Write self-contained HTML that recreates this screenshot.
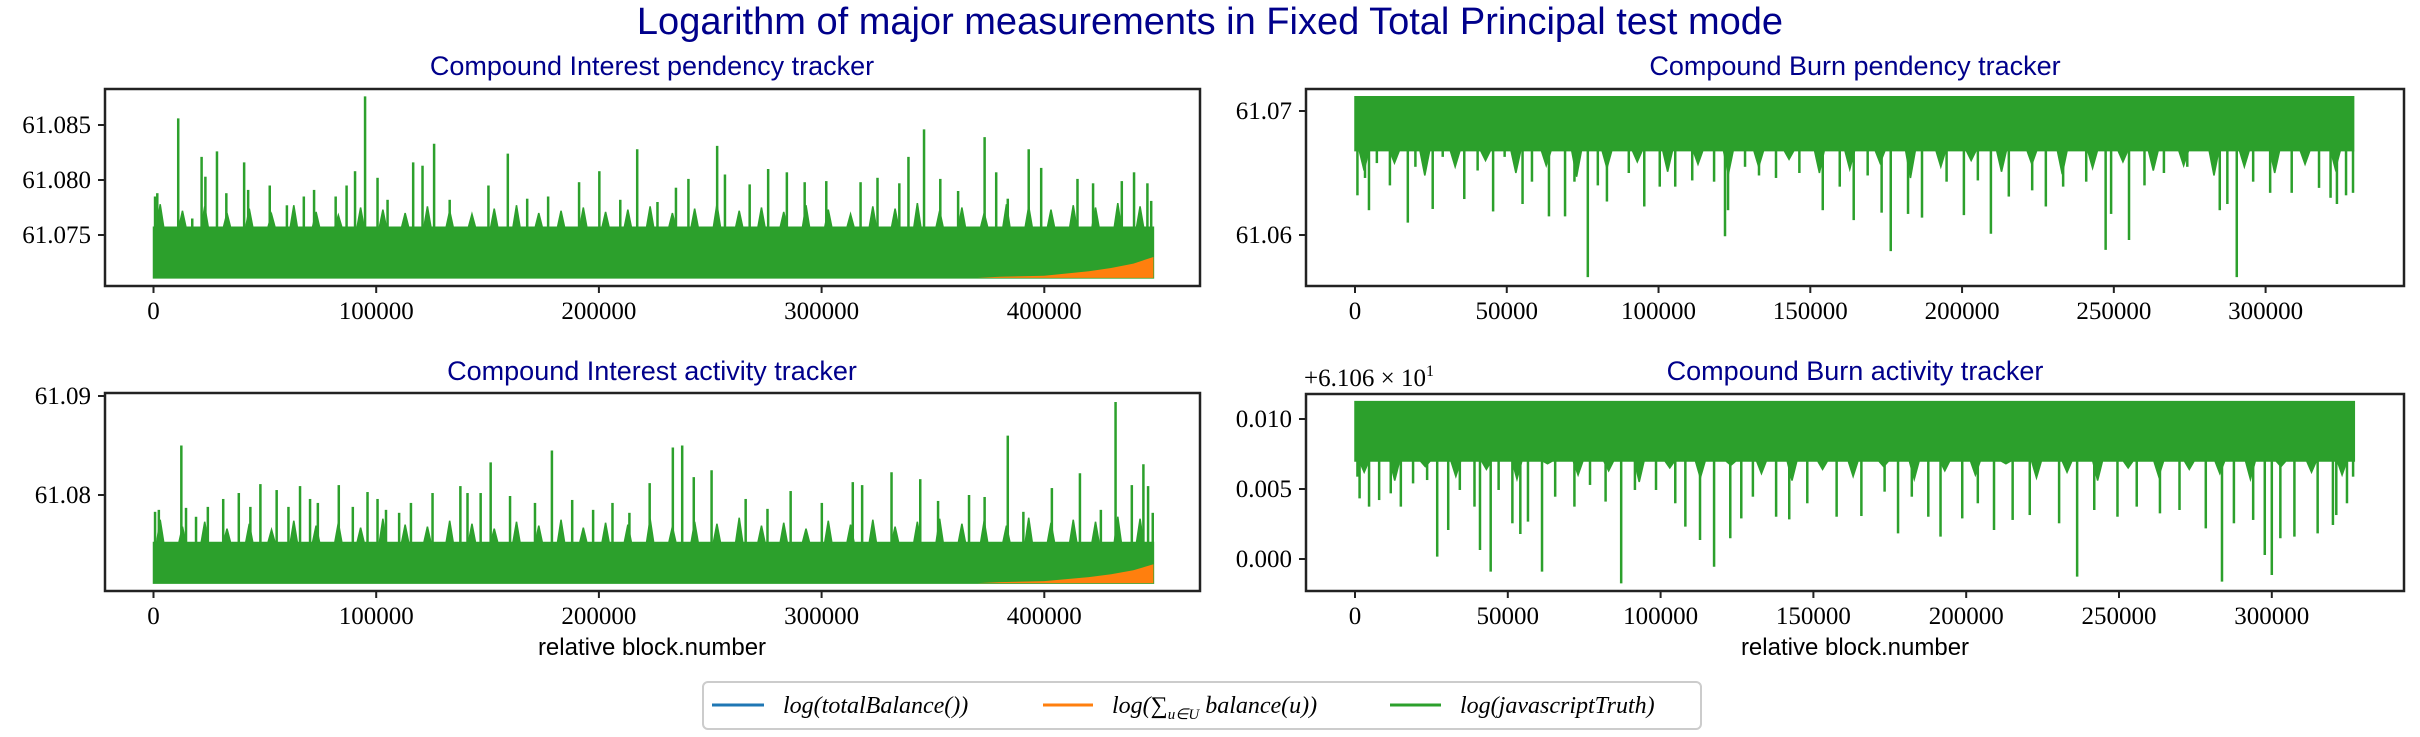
<!DOCTYPE html>
<html><head><meta charset="utf-8"><style>
html,body{margin:0;padding:0;background:#fff;}
svg{display:block;}
</style></head><body>
<svg id="fig" width="2420" height="737" viewBox="0 0 2420 737" xmlns="http://www.w3.org/2000/svg">
<rect width="2420" height="737" fill="#fff"/>
<text x="1210" y="34" text-anchor="middle" font-family="Liberation Sans, sans-serif" font-size="38" fill="#00008b">Logarithm of major measurements in Fixed Total Principal test mode</text>
<text x="652" y="75" text-anchor="middle" font-family="Liberation Sans, sans-serif" font-size="27" fill="#00008b">Compound Interest pendency tracker</text>
<text x="1855" y="75" text-anchor="middle" font-family="Liberation Sans, sans-serif" font-size="27" fill="#00008b">Compound Burn pendency tracker</text>
<text x="652" y="380" text-anchor="middle" font-family="Liberation Sans, sans-serif" font-size="27" fill="#00008b">Compound Interest activity tracker</text>
<text x="1855" y="380" text-anchor="middle" font-family="Liberation Sans, sans-serif" font-size="27" fill="#00008b">Compound Burn activity tracker</text>
<text x="652" y="655" text-anchor="middle" font-family="Liberation Sans, sans-serif" font-size="24" fill="#000">relative block.number</text>
<text x="1855" y="655" text-anchor="middle" font-family="Liberation Sans, sans-serif" font-size="24" fill="#000">relative block.number</text>
<text x="1304" y="386" font-family="Liberation Serif, serif" font-size="25" fill="#000">+6.106 × 10<tspan dy="-10" font-size="16">1</tspan></text>
<g id="legend">
<rect x="703" y="682" width="998" height="47" rx="5" fill="#fff" stroke="#ccc" stroke-width="2"/>
<g><line x1="712" y1="705" x2="764" y2="705" stroke="#1f77b4" stroke-width="3"/><text x="783" y="713" font-family="Liberation Serif, serif" font-style="italic" font-size="24">log(totalBalance())</text></g>
<g><line x1="1043" y1="705" x2="1093" y2="705" stroke="#ff7f0e" stroke-width="3"/><text x="1112" y="713" font-family="Liberation Serif, serif" font-style="italic" font-size="24">log(∑<tspan dy="6" font-size="15">u∈U</tspan><tspan dy="-6"> balance(u))</tspan></text></g>
<g><line x1="1390" y1="705" x2="1441" y2="705" stroke="#2ca02c" stroke-width="3"/><text x="1460" y="713" font-family="Liberation Serif, serif" font-style="italic" font-size="24">log(javascriptTruth)</text></g>
</g>
</svg>
<script>
// ---- data (x in thousands of blocks) ----
const p1SpikeX=[0.7,1.7,11.1,17.4,21.6,23.3,28.5,32.7,40.7,42.5,52.2,59.9,67.5,72.1,81.8,86.7,90.5,95.0,100.6,105.1,116.6,120.8,126.0,133.0,150.4,159.1,167.8,177.2,191.1,200.2,209.6,217.2,226.3,234.6,240.2,253.1,256.6,267.7,276.0,284.4,292.4,302.1,317.5,325.1,334.9,339.0,346.0,353.3,361.3,373.2,378.4,383.6,393.0,398.6,414.9,421.9,434.8,440.3,446.3,448.0];
const p1SpikeV=[61.0785,61.0788,61.0856,61.0765,61.0821,61.0803,61.0826,61.0788,61.0816,61.0791,61.0795,61.0777,61.0785,61.0791,61.0785,61.0795,61.0808,61.0876,61.0802,61.0782,61.0816,61.0813,61.0833,61.0782,61.0795,61.0824,61.0783,61.0785,61.0798,61.0808,61.0782,61.0828,61.0780,61.0793,61.0801,61.0831,61.0805,61.0796,61.0810,61.0807,61.0798,61.0799,61.0798,61.0802,61.0797,61.0821,61.0846,61.0801,61.0790,61.0839,61.0807,61.0783,61.0828,61.0811,61.0801,61.0797,61.0799,61.0807,61.0797,61.0781];
const p1Mid=[61.0778,61.0772,61.0776,61.0770,61.0774,61.0769,61.0777,61.0771,61.0768,61.0775,61.0773,61.0770,61.0776,61.0772,61.0769,61.0774,61.0777,61.0770,61.0772,61.0775,61.0771,61.0773,61.0776,61.0770,61.0774,61.0778,61.0772,61.0775,61.0771,61.0777,61.0773,61.0769,61.0776,61.0774,61.0779,61.0772,61.0775,61.0770,61.0778,61.0776,61.0773,61.0777,61.0775,61.0779,61.0776];
const p1Band=61.0757, p1Base=61.0711, p1End=449;
const p1OrangeX=[370,380,400,410,420,430,440,449];
const p1OrangeV=[61.0711,61.0712,61.0713,61.0715,61.0717,61.0720,61.0724,61.0730];

const p3SpikeX=[0.7,2.4,12.5,14.6,19.1,24.4,31.3,38.3,43.5,48.0,55.3,60.6,65.8,70.3,73.8,83.2,89.5,96.1,100.6,104.4,110.3,115.6,125.3,137.8,141.0,146.9,151.4,160.1,171.3,178.9,188.0,197.4,206.1,213.7,222.8,233.2,237.4,242.6,250.6,265.9,275.7,286.1,300.1,314.0,318.2,331.4,344.3,352.3,366.2,373.2,383.6,390.6,403.4,416.0,425.4,432.0,439.3,444.5,446.6,448.7];
const p3SpikeV=[61.0783,61.0785,61.0850,61.0787,61.0778,61.0788,61.0796,61.0802,61.0788,61.0811,61.0805,61.0788,61.0809,61.0796,61.0792,61.0810,61.0788,61.0803,61.0796,61.0785,61.0782,61.0792,61.0802,61.0809,61.0802,61.0802,61.0833,61.0799,61.0792,61.0845,61.0795,61.0785,61.0792,61.0782,61.0812,61.0848,61.0850,61.0818,61.0825,61.0796,61.0786,61.0804,61.0792,61.0813,61.0810,61.0823,61.0816,61.0794,61.0800,61.0798,61.0860,61.0783,61.0807,61.0822,61.0785,61.0894,61.0810,61.0831,61.0809,61.0782];
const p3Mid=[61.0775,61.0768,61.0773,61.0766,61.0771,61.0765,61.0774,61.0769,61.0772,61.0767,61.0776,61.0770,61.0768,61.0774,61.0771,61.0766,61.0773,61.0769,61.0775,61.0767,61.0772,61.0770,61.0776,61.0768,61.0773,61.0771,61.0777,61.0769,61.0772,61.0766,61.0774,61.0770,61.0775,61.0768,61.0773,61.0776,61.0771,61.0774,61.0769,61.0777,61.0772,61.0775,61.0773,61.0778,61.0776];
const p3Band=61.0752, p3Base=61.0711, p3End=449;
const p3OrangeX=[370,380,400,410,420,430,440,449];
const p3OrangeV=[61.0711,61.0712,61.0713,61.0715,61.0717,61.0720,61.0724,61.0730];

const p2DipX=[0.8,3.3,4.6,7.2,11.5,17.4,19.9,25.6,28.9,36.0,40.4,45.5,49.3,55.2,58.3,63.9,69.2,72.3,76.7,80.0,83.0,90.2,95.3,100.4,105.5,111.1,118.3,121.9,122.9,128.5,133.1,138.7,146.4,154.1,159.7,164.3,168.9,173.5,176.5,182.2,186.8,194.9,200.6,205.2,209.5,215.4,223.1,227.6,233.3,240.9,247.3,249.1,255.0,260.1,266.5,274.2,284.9,287.4,290.5,295.9,301.5,308.6,317.6,321.4,323.5,326.5,328.8];
const p2DipV=[61.0632,61.0646,61.0620,61.0658,61.0640,61.0610,61.0655,61.0621,61.0663,61.0629,61.0652,61.0619,61.0663,61.0625,61.0643,61.0615,61.0615,61.0643,61.0566,61.0640,61.0627,61.0650,61.0623,61.0639,61.0639,61.0644,61.0643,61.0599,61.0620,61.0655,61.0648,61.0646,61.0650,61.0620,61.0639,61.0612,61.0648,61.0618,61.0587,61.0617,61.0614,61.0643,61.0616,61.0644,61.0601,61.0631,61.0636,61.0623,61.0639,61.0643,61.0588,61.0617,61.0596,61.0640,61.0650,61.0655,61.0620,61.0625,61.0566,61.0643,61.0634,61.0634,61.0638,61.0630,61.0625,61.0632,61.0634];
const p2Mid=[61.0652,61.0658,61.0648,61.0655,61.0660,61.0650,61.0656,61.0647,61.0654,61.0659,61.0651,61.0657,61.0649,61.0655,61.0661,61.0650,61.0653,61.0658,61.0646,61.0655,61.0660,61.0651,61.0657,61.0649,61.0654,61.0659,61.0652,61.0656,61.0648,61.0655,61.0650,61.0657,61.0653];
const p2Band=61.0668, p2Top=61.07115, p2End=329;

const p4DipX=[0.8,1.5,4.6,7.9,11.7,15.0,19.0,23.6,26.9,30.5,34.3,39.1,40.9,44.4,47.0,51.5,54.1,56.6,61.2,65.5,71.8,76.9,82.0,87.1,91.6,98.5,104.8,108.1,112.9,117.5,122.8,126.4,130.2,137.8,142.1,148.0,157.6,165.7,173.3,177.7,182.2,187.6,191.6,198.7,203.8,209.1,215.2,220.8,230.4,236.3,241.9,249.5,255.8,263.4,269.8,278.4,283.7,287.6,293.9,297.7,300.0,302.8,307.4,315.0,320.0,321.1,324.6,326.6];
const p4DipV=[0.00588,0.00433,0.00374,0.00421,0.00469,0.00374,0.00540,0.00564,0.00017,0.00207,0.00493,0.00374,0.00064,-0.00090,0.00493,0.00255,0.00179,0.00267,-0.00090,0.00445,0.00374,0.00529,0.00410,-0.00174,0.00493,0.00493,0.00398,0.00231,0.00136,-0.00055,0.00148,0.00290,0.00445,0.00302,0.00283,0.00398,0.00302,0.00307,0.00481,0.00183,0.00445,0.00302,0.00160,0.00290,0.00398,0.00207,0.00279,0.00314,0.00255,-0.00126,0.00350,0.00302,0.00374,0.00326,0.00350,0.00219,-0.00162,0.00255,0.00279,0.00029,-0.00114,0.00148,0.00160,0.00183,0.00243,0.00314,0.00398,0.00588];
const p4Mid=[0.0062,0.0056,0.0066,0.0059,0.0064,0.0057,0.0068,0.0060,0.0063,0.0055,0.0065,0.0058,0.0067,0.0061,0.0056,0.0064,0.0059,0.0066,0.0057,0.0063,0.0060,0.0068,0.0058,0.0062,0.0056,0.0065,0.0059,0.0064,0.0061,0.0057,0.0066,0.0062,0.0060];
const p4Band=0.0070, p4Top=0.01124, p4End=327;

const xTicksLeft=[0,100,200,300,400];
const xTickLabelsLeft=["0","100000","200000","300000","400000"];
const xTicksRight=[0,50,100,150,200,250,300];
const xTickLabelsRight=["0","50000","100000","150000","200000","250000","300000"];
const p1YTicks=[61.075,61.080,61.085], p1YLabels=["61.075","61.080","61.085"];
const p3YTicks=[61.08,61.09], p3YLabels=["61.08","61.09"];
const p2YTicks=[61.06,61.07], p2YLabels=["61.06","61.07"];
const p4YTicks=[0,0.005,0.010], p4YLabels=["0.000","0.005","0.010"];

const NS="http://www.w3.org/2000/svg";
const fig=document.getElementById('fig');
const GREEN="#2ca02c", ORANGE="#ff7f0e", BLUE="#1f77b4";
function mk(tag,attrs,parent){const e=document.createElementNS(NS,tag);for(const k in attrs)e.setAttribute(k,attrs[k]);(parent||fig).appendChild(e);return e;}

function panel(cfg){
  const g=mk('g',{});
  
  
  const sx=v=>cfg.x0+v*cfg.kx;
  const sy=v=>cfg.yA+(v-cfg.vA)*(cfg.yB-cfg.yA)/(cfg.vB-cfg.vA);
  const end=cfg.end;
  const step=10, hw=1.6;
  const edge=cfg.inverted?cfg.top:cfg.base;
  let pts=[[sx(0),sy(edge)],[sx(0),sy(cfg.band)]];
  for(let i=0;i<cfg.mid.length;i++){
    const x=i*step+3; if(x>end)break;
    pts.push([sx(Math.max(0,x-hw)),sy(cfg.band)]);
    pts.push([sx(x),sy(cfg.mid[i])]);
    pts.push([sx(Math.min(end,x+hw)),sy(cfg.band)]);
  }
  pts.push([sx(end),sy(cfg.band)]);pts.push([sx(end),sy(edge)]);
  const band=mk('polygon',{points:pts.map(p=>p.join(',')).join(' '),fill:GREEN,stroke:GREEN,'stroke-width':1.5},g);
  
  
  for(let i=0;i<cfg.spikeX.length;i++){
    const l=mk('line',{x1:sx(cfg.spikeX[i]),x2:sx(cfg.spikeX[i]),y1:sy(cfg.band),y2:sy(cfg.spikeV[i]),stroke:GREEN,'stroke-width':2.5},g);
    
    
  }
  if(!cfg.inverted){
    let op=[];
    for(let i=0;i<cfg.oX.length;i++)op.push([sx(cfg.oX[i]),sy(cfg.oV[i])]);
    op.push([sx(cfg.oX[cfg.oX.length-1]),sy(cfg.base)]);op.push([sx(cfg.oX[0]),sy(cfg.base)]);
    const o=mk('polygon',{points:op.map(p=>p.join(',')).join(' '),fill:ORANGE,stroke:'none'},g);
    
    
  }
  const fr=mk('rect',{x:cfg.bx0,y:cfg.by0,width:cfg.bx1-cfg.bx0,height:cfg.by1-cfg.by0,fill:'none',stroke:'#222','stroke-width':2.5},g);
  
  
  for(let i=0;i<cfg.xt.length;i++){
    const x=sx(cfg.xt[i]);
    const t=mk('line',{x1:x,x2:x,y1:cfg.by1,y2:cfg.by1+7,stroke:'#222','stroke-width':2},g);
    
    
    const tx=mk('text',{x:x,y:cfg.by1+33,'text-anchor':'middle','font-family':'Liberation Serif, serif','font-size':25,fill:'#000'},g);
    tx.textContent=cfg.xl[i];
    
    
  }
  for(let i=0;i<cfg.yt.length;i++){
    const y=sy(cfg.yt[i]);
    const t=mk('line',{x1:cfg.bx0-7,x2:cfg.bx0,y1:y,y2:y,stroke:'#222','stroke-width':2},g);
    
    
    const tx=mk('text',{x:cfg.bx0-14,y:y+8,'text-anchor':'end','font-family':'Liberation Serif, serif','font-size':25,fill:'#000'},g);
    tx.textContent=cfg.yl[i];
    
    
  }
}
const kL=222.7/100, kR2=(2265.6-1355)/300, kR4=(2271.8-1355)/300;
panel({name:'interest-pendency-plot',x0:153.5,kx:kL,yA:125,vA:61.085,yB:235,vB:61.075,bx0:105,bx1:1200,by0:89,by1:286,
  end:p1End,base:p1Base,band:p1Band,mid:p1Mid,spikeX:p1SpikeX,spikeV:p1SpikeV,oX:p1OrangeX,oV:p1OrangeV,
  xt:xTicksLeft,xl:xTickLabelsLeft,yt:p1YTicks,yl:p1YLabels});
panel({name:'interest-activity-plot',x0:153.5,kx:kL,yA:396,vA:61.09,yB:495,vB:61.08,bx0:105,bx1:1200,by0:393,by1:591,
  end:p3End,base:p3Base,band:p3Band,mid:p3Mid,spikeX:p3SpikeX,spikeV:p3SpikeV,oX:p3OrangeX,oV:p3OrangeV,
  xt:xTicksLeft,xl:xTickLabelsLeft,yt:p3YTicks,yl:p3YLabels});
panel({name:'burn-pendency-plot',inverted:true,x0:1355,kx:kR2,yA:111,vA:61.07,yB:235,vB:61.06,bx0:1306,bx1:2404,by0:89,by1:286,
  end:p2End,top:p2Top,band:p2Band,mid:p2Mid,spikeX:p2DipX,spikeV:p2DipV,
  xt:xTicksRight,xl:xTickLabelsRight,yt:p2YTicks,yl:p2YLabels});
panel({name:'burn-activity-plot',inverted:true,x0:1355,kx:kR4,yA:419,vA:0.010,yB:559,vB:0,bx0:1306,bx1:2404,by0:394,by1:591,
  end:p4End,top:p4Top,band:p4Band,mid:p4Mid,spikeX:p4DipX,spikeV:p4DipV,
  xt:xTicksRight,xl:xTickLabelsRight,yt:p4YTicks,yl:p4YLabels});
fig.appendChild(document.getElementById('legend'));
</script>
</body></html>
